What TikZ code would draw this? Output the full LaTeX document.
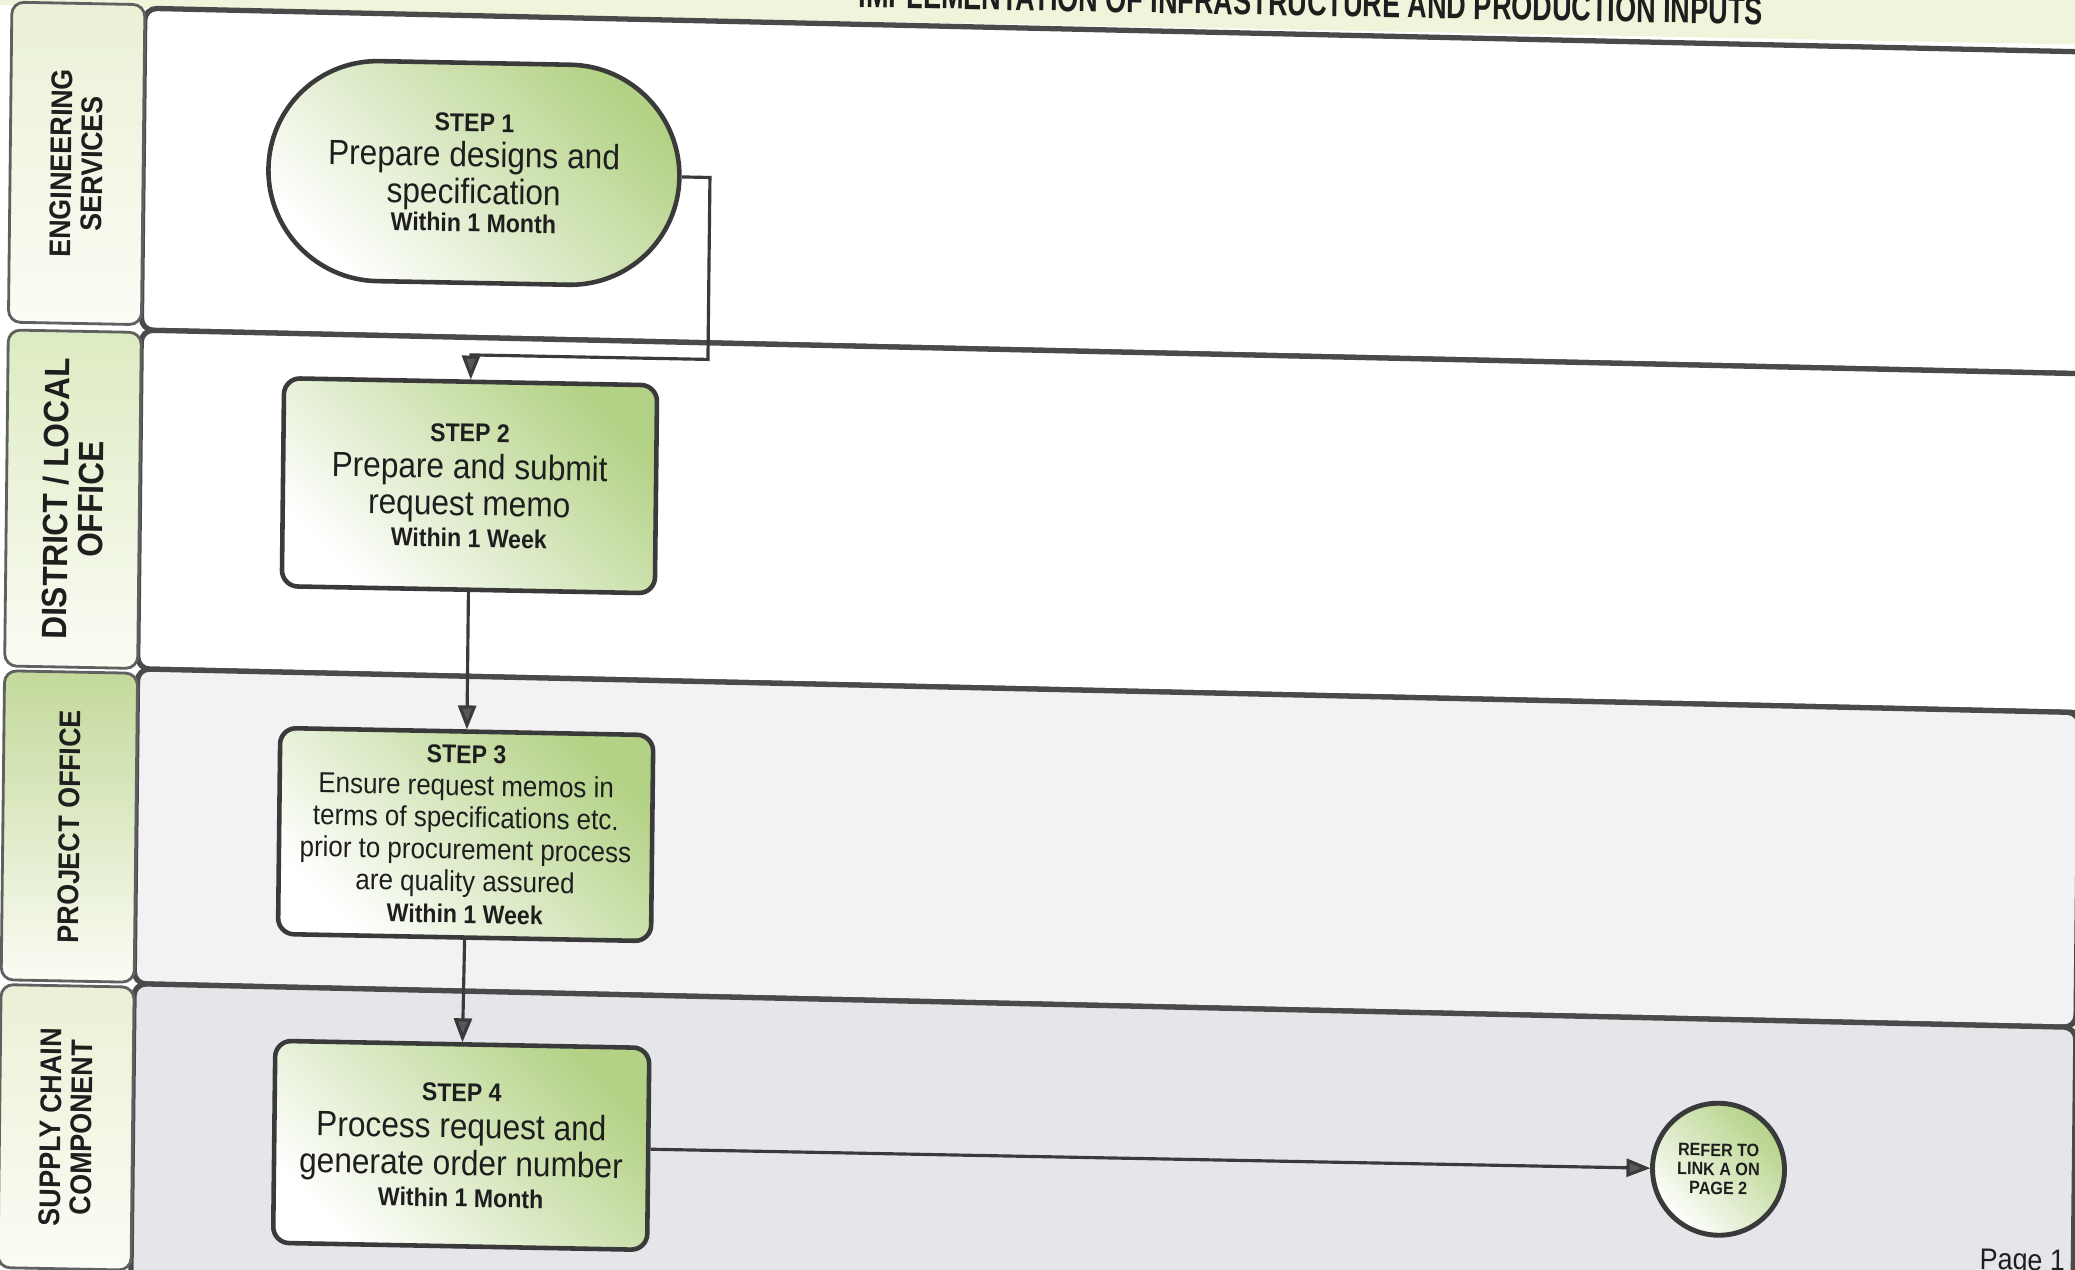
\documentclass[tikz,border=0pt]{standalone}
\usepackage{fontspec}
\setmainfont{Liberation Sans}
\newfontfamily\cond[FakeStretch=0.9]{Liberation Sans}
\newfontfamily\titlefont[FakeStretch=0.7]{Liberation Sans}
\usetikzlibrary{arrows.meta,shapes.misc}
\definecolor{stepgreen}{HTML}{B4D286}
\definecolor{edge}{HTML}{3A3A3A}
\definecolor{laneline}{HTML}{4A4A4A}
\definecolor{lanegray}{HTML}{E5E6EA}
\definecolor{lanegraylight}{HTML}{F2F2F4}
\definecolor{headgreen}{HTML}{EEF5DA}
\definecolor{lblgreenA}{HTML}{EAF1D6}
\definecolor{lblgreenB}{HTML}{DDEBC2}
\definecolor{lblgreenC}{HTML}{C3D99A}
\definecolor{lblwhite}{HTML}{FBFCF5}
\definecolor{txt}{HTML}{1E1E1E}
\tikzset{
  stepbox/.style={draw=edge, line width=1.3pt, rounded corners=0.16cm,
    top color=stepgreen, bottom color=white, shading angle=-45,
    align=center, inner sep=1pt, text=txt,
    font=\cond\fontsize{10}{10.5}\selectfont},
  startbox/.style={stepbox, rounded rectangle, rounded corners=0pt},
  linkcircle/.style={circle, draw=edge, line width=1.4pt,
    top color=stepgreen, bottom color=white, shading angle=-45,
    align=center, inner sep=0pt, text=txt,
    font=\cond\bfseries\fontsize{5.1}{5.4}\selectfont},
  lanelabel/.style={draw=gray!75!black, line width=0.8pt, rounded corners=0.12cm,
    rotate=90, align=center, inner sep=0pt, text=txt,
    font=\cond\bfseries\fontsize{8.5}{8.8}\selectfont},
  lanebody/.style={draw=laneline, line width=1.5pt, rounded corners=0.12cm},
  conn/.style={draw=edge, line width=0.9pt,
    -{Triangle[length=0.24cm,width=0.18cm,fill=edge!85!white]}},
}
\newcommand{\stp}[1]{{\fontsize{7.3}{8}\selectfont\bfseries #1}}
\begin{document}
\begin{tikzpicture}
\useasboundingbox (0,0) rectangle (20.75,-12.7);
\clip (0,0) rectangle (20.75,-12.7);
\fill[white] (0,0) rectangle (20.75,-12.7);
\begin{scope}[x=0.01cm,y=-0.01cm,cm={1,-0.019,0.011,1,(0,0)},transform shape]
  % header band
  \fill[headgreen] (-60,-120) rectangle (2200,5);
  % lanes (a touch steeper than the rest of the scan)
  \begin{scope}[yslant=-0.0035]
    \draw[lanebody, fill=white] (145,5) rectangle (2100,327);
    \draw[lanebody, fill=white] (145,327) rectangle (2100,666);
    \draw[lanebody, fill=lanegraylight] (145,666) rectangle (2088,981);
    \draw[lanebody, fill=lanegray] (145,981) rectangle (2088,1320);
  \end{scope}
  % title and footer
  \node[anchor=base east, text=txt, font=\titlefont\bfseries\fontsize{11}{12}\selectfont]
    (title) at (1776,-9) {IMPLEMENTATION OF INFRASTRUCTURE AND PRODUCTION INPUTS};
  \node[anchor=base east, text=txt, font=\cond\fontsize{8.5}{10}\selectfont]
    (pg) at (2092,1232) {Page 1};
  % lane labels
  \node[lanelabel, minimum width=3.2cm, minimum height=1.33cm,
    top color=lblgreenA, bottom color=lblwhite]
    (lbl1) at (78.5,162) {ENGINEERING\\SERVICES};
  \node[lanelabel, minimum width=3.36cm, minimum height=1.33cm,
    top color=lblgreenB, bottom color=lblwhite,
    font=\cond\bfseries\fontsize{10}{10}\selectfont]
    (lbl2) at (78.5,498) {DISTRICT / LOCAL\\OFFICE};
  \node[lanelabel, minimum width=3.09cm, minimum height=1.33cm,
    top color=lblgreenC, bottom color=lblwhite]
    (lbl3) at (78.5,825.5) {PROJECT OFFICE};
  \node[lanelabel, minimum width=2.83cm, minimum height=1.33cm,
    top color=lblgreenA, bottom color=lblwhite]
    (lbl4) at (78.5,1126.5) {SUPPLY CHAIN\\COMPONENT};
  % steps
  \node[startbox, minimum width=4.18cm, minimum height=2.2cm]
    (s1) at (476,164) {\stp{STEP 1}\\[-0.5pt]Prepare designs and\\specification\\[-2.5pt]\stp{Within 1 Month}};
  \node[stepbox, minimum width=3.73cm, minimum height=2.08cm]
    (s2) at (475,477) {\stp{STEP 2}\\Prepare and submit\\request memo\\[-1.5pt]\stp{Within 1 Week}};
  \node[stepbox, minimum width=3.73cm, minimum height=2.06cm,
    font=\cond\fontsize{8.2}{9.1}\selectfont]
    (s3) at (475,826) {\stp{STEP 3}\\Ensure request memos in\\terms of specifications etc.\\prior to procurement process\\are quality assured\\\stp{Within 1 Week}};
  \node[stepbox, minimum width=3.74cm, minimum height=2.02cm]
    (s4) at (474,1137) {\stp{STEP 4}\\Process request and\\generate order number\\[-1.5pt]\stp{Within 1 Month}};
  \node[linkcircle, minimum size=1.32cm]
    (link) at (1732,1137) {REFER TO\\LINK A ON\\PAGE 2};
  % connectors
  \coordinate (bend1) at (712,346);
  \draw[conn] (s1.east) -| (bend1) -| (s2.north);
  \draw[conn] (s2.south) -- (s3.north);
  \draw[conn] (s3.south) -- (s4.north);
  \draw[conn] (s4.east) -- (link.west);
\end{scope}
\end{tikzpicture}
\end{document}
